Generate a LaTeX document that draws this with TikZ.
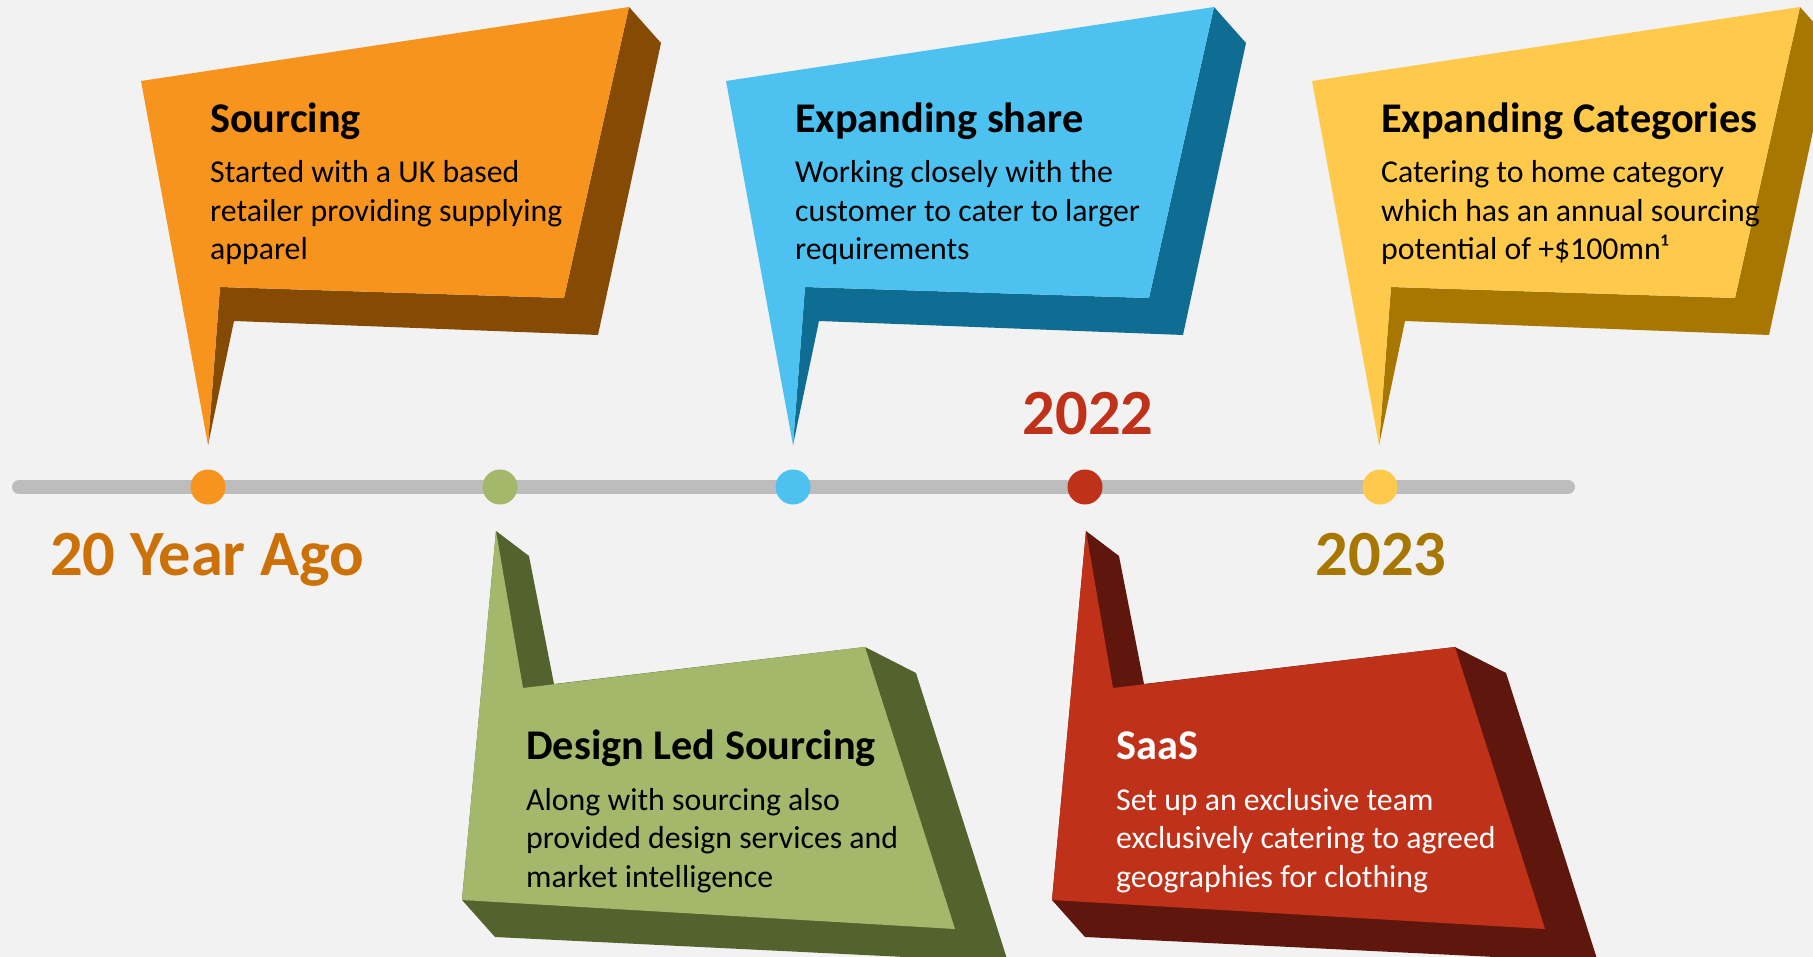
\documentclass[tikz,border=0pt]{standalone}
\usepackage{fontspec}
\setmainfont{Carlito}
\definecolor{bg}{HTML}{F2F2F2}
\definecolor{tl}{HTML}{BDBDBD}
\definecolor{orF}{HTML}{F7941E}
\definecolor{orD}{HTML}{854B04}
\definecolor{blF}{HTML}{4DC1EF}
\definecolor{blD}{HTML}{0F6D94}
\definecolor{ylF}{HTML}{FFCA4B}
\definecolor{ylD}{HTML}{A87701}
\definecolor{grF}{HTML}{A3B86B}
\definecolor{grD}{HTML}{54632E}
\definecolor{rdF}{HTML}{C0311A}
\definecolor{rdD}{HTML}{5F170D}
\definecolor{yrO}{HTML}{CC7108}
\newcommand{\bodylines}[1]{\begin{tabular}[t]{@{}l@{}}#1\end{tabular}}
\tikzset{
  pics/upcall/.style 2 args={code={
    \fill[#2] (629,7) -- (661,43) -- (598,335) -- (234,321) -- (208,445) -- (220,287) -- (564,298) -- cycle;
    \fill[#1] (141,81) -- (629,7) -- (564,298) -- (220,287) -- (208,445) -- cycle;
  }},
  pics/lowcall/.style 2 args={code={
    \fill[#2] (496,531) -- (529,556) -- (554,684) -- (865,647) -- (916,673) -- (1008,962) -- (495,937) -- (462,900) -- cycle;
    \fill[#1] (496,531) -- (523,688) -- (865,647) -- (955,929) -- (462,900) -- cycle;
  }},
  dot/.style={circle, minimum size=35pt, inner sep=0pt, draw=none},
  ttl/.style={font=\fontsize{42.3}{50}\selectfont\bfseries, anchor=base west, inner sep=0pt},
  bdy/.style={font=\fontsize{31.8}{38.5}\selectfont, anchor=base west, inner sep=0pt},
  year/.style={font=\fontsize{64.5}{70}\selectfont\bfseries, inner sep=0pt},
}
\begin{document}
\begin{tikzpicture}[x=1pt,y=-1pt]
\useasboundingbox (0,0) rectangle (1813,957);
\fill[bg] (0,0) rectangle (1813,957);
\begin{scope}
\clip (0,0) rectangle (1813,957);
% upper callouts
\pic at (0,0) {upcall={orF}{orD}};
\pic at (585,0) {upcall={blF}{blD}};
\pic at (1171,0) {upcall={ylF}{ylD}};
% lower callouts
\pic at (0,0) {lowcall={grF}{grD}};
\pic at (590,0) {lowcall={rdF}{rdD}};
\end{scope}
% timeline
\coordinate (L0) at (19,487);
\coordinate (L1) at (1568,487);
\draw[tl, line width=14pt, line cap=round] (L0) -- (L1);
\node[dot, fill=orF] (c1) at (208,487) {};
\node[dot, fill=grF] (c2) at (500,487) {};
\node[dot, fill=blF] (c3) at (793,487) {};
\node[dot, fill=rdF] (c4) at (1085,487) {};
\node[dot, fill=ylF] (c5) at (1380,487) {};
% years
\node[year, text=yrO, anchor=base west] (y1) at (50,575) {20 Year Ago};
\node[year, text=rdF, anchor=base] (y2) at (1088,435) {2022};
\node[year, text=ylD, anchor=base] (y3) at (1381,575) {2023};
% texts
\node[ttl] (t1) at (210,133) {Sourcing};
\node[bdy] (d1) at (210,183) {\bodylines{Started with a UK based\\retailer providing supplying\\apparel}};
\node[ttl] (t2) at (795,133) {Expanding share};
\node[bdy] (d2) at (795,183) {\bodylines{Working closely with the\\customer to cater to larger\\requirements}};
\node[ttl] (t3) at (1381,133) {Expanding Categories};
\node[bdy] (d3) at (1381,183) {\bodylines{Catering to home category\\which has an annual sourcing\\potential of +\$100mn¹}};
\node[ttl] (t4) at (526,759) {Design Led Sourcing};
\node[bdy] (d4) at (526,810) {\bodylines{Along with sourcing also\\provided design services and\\market intelligence}};
\node[ttl, text=white] (t5) at (1116,759) {SaaS};
\node[bdy, text=white] (d5) at (1116,810) {\bodylines{Set up an exclusive team\\exclusively catering to agreed\\geographies for clothing}};
\end{tikzpicture}
\end{document}
